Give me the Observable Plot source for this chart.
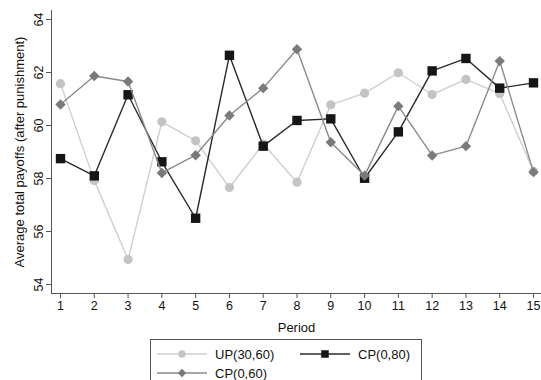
<!DOCTYPE html>
<html>
<head>
<meta charset="utf-8">
<script src="https://cdn.jsdelivr.net/npm/d3@7"></script>
<script src="https://cdn.jsdelivr.net/npm/@observablehq/plot@0.6"></script>
<style>
  html, body { margin: 0; padding: 0; background: #fff; }
  #wrap { position: relative; width: 541px; height: 380px; overflow: hidden; font-family: "Liberation Sans", Arial, Helvetica, sans-serif; }
  #legend { position: absolute; left: 150px; top: 339px; width: 272px; height: 60px; border: 1px solid #555; box-sizing: border-box; font-size: 13px; color: #111; }
  .item { position: absolute; display: flex; align-items: center; }
  .item svg { display: block; margin-right: 8px; }
</style>
</head>
<body>
<div id="wrap">
  <div id="chart"></div>
  <div id="legend"></div>
</div>
<script>
// ---- data ----
const periods = [1, 2, 3, 4, 5, 6, 7, 8, 9, 10, 11, 12, 13, 14, 15];
const seriesNames = ["UP(30,60)", "CP(0,80)", "CP(0,60)"];
const up3060 = [61.58, 57.92, 54.94, 60.14, 59.42, 57.66, 59.30, 57.86, 60.78, 61.22, 61.99, 61.17, 61.74, 61.20, 58.27];
const cp080  = [58.75, 58.10, 61.16, 58.63, 56.50, 62.65, 59.22, 60.19, 60.25, 58.01, 59.76, 62.06, 62.53, 61.41, 61.61];
const cp060  = [60.79, 61.87, 61.66, 58.21, 58.88, 60.38, 61.41, 62.88, 59.37, 58.11, 60.73, 58.87, 59.22, 62.43, 58.24];
const yTicks = [54, 56, 58, 60, 62, 64];

// ---- styles ----
const diamond = {
  draw(ctx, size) {
    const h = Math.sqrt(size / Math.PI);
    ctx.moveTo(0, -h); ctx.lineTo(h, 0); ctx.lineTo(0, h); ctx.lineTo(-h, 0); ctx.closePath();
  }
};
const styles = [
  {line: "#cfcfcf", fill: "#c4c4c4", symbol: "circle", r: 4.6},
  {line: "#2a2a2a", fill: "#161616", symbol: "square", r: 5.3},
  {line: "#8a8a8a", fill: "#7a7a7a", symbol: diamond, r: 5.2}
];
const values = [up3060, cp080, cp060];

const marks = [
  Plot.frame({anchor: "left", stroke: "#555"}),
  Plot.frame({anchor: "bottom", stroke: "#555"}),
  Plot.axisX({ticks: periods, tickSize: 5, tickPadding: 3, stroke: "#555", fill: "#111", fontSize: 12.5, label: null}),
  Plot.axisX({ticks: [], fill: "#111", fontSize: 13,
    label: "Period", labelAnchor: "center", labelOffset: 38, labelArrow: "none"}),
  Plot.axisY({ticks: yTicks, tickSize: 5, tickRotate: -90, stroke: "#555", fill: "#111", fontSize: 12.5, label: null}),
  Plot.axisY({ticks: [], fill: "#111", fontSize: 13,
    label: "Average total payoffs (after punishment)", labelAnchor: "center", labelOffset: 37, labelArrow: "none"})
];
values.forEach((vals, i) => {
  const data = periods.map((p, j) => ({period: p, value: vals[j], series: seriesNames[i]}));
  const s = styles[i];
  marks.push(Plot.line(data, {x: "period", y: "value", stroke: s.line, strokeWidth: 1.4}));
  marks.push(Plot.dot(data, {x: "period", y: "value", symbol: s.symbol, r: s.r, fill: s.fill, stroke: "none"}));
});

const chart = Plot.plot({
  width: 541,
  height: 335,
  marginLeft: 51,
  marginRight: 0,
  marginTop: 10,
  marginBottom: 42,
  style: {fontFamily: "'Liberation Sans', Arial, Helvetica, sans-serif", fontSize: "12px", background: "#fff"},
  x: {domain: [1, 15], range: [60, 533]},
  y: {domain: [54, 64], range: [284, 19]},
  marks
});
document.getElementById("chart").appendChild(chart);

// ---- legend ----
const legend = document.getElementById("legend");
const positions = [{left: 6, top: 6}, {left: 149, top: 6}, {left: 6, top: 25}];
seriesNames.forEach((name, i) => {
  const s = styles[i];
  const item = document.createElement("div");
  item.className = "item";
  item.style.left = positions[i].left + "px";
  item.style.top = positions[i].top + "px";
  const svg = d3.create("svg").attr("width", 50).attr("height", 16);
  svg.append("line").attr("x1", 0).attr("x2", 50).attr("y1", 8).attr("y2", 8).attr("stroke", s.line).attr("stroke-width", 1.4);
  const sym = s.symbol === "circle" ? d3.symbolCircle : s.symbol === "square" ? d3.symbolSquare : s.symbol;
  const size = Math.PI * (s.r * 0.8) * (s.r * 0.8);
  svg.append("path").attr("transform", "translate(25,8)").attr("d", d3.symbol(sym, size)()).attr("fill", s.fill);
  item.appendChild(svg.node());
  const label = document.createElement("span");
  label.textContent = name;
  item.appendChild(label);
  legend.appendChild(item);
});
</script>
</body>
</html>
